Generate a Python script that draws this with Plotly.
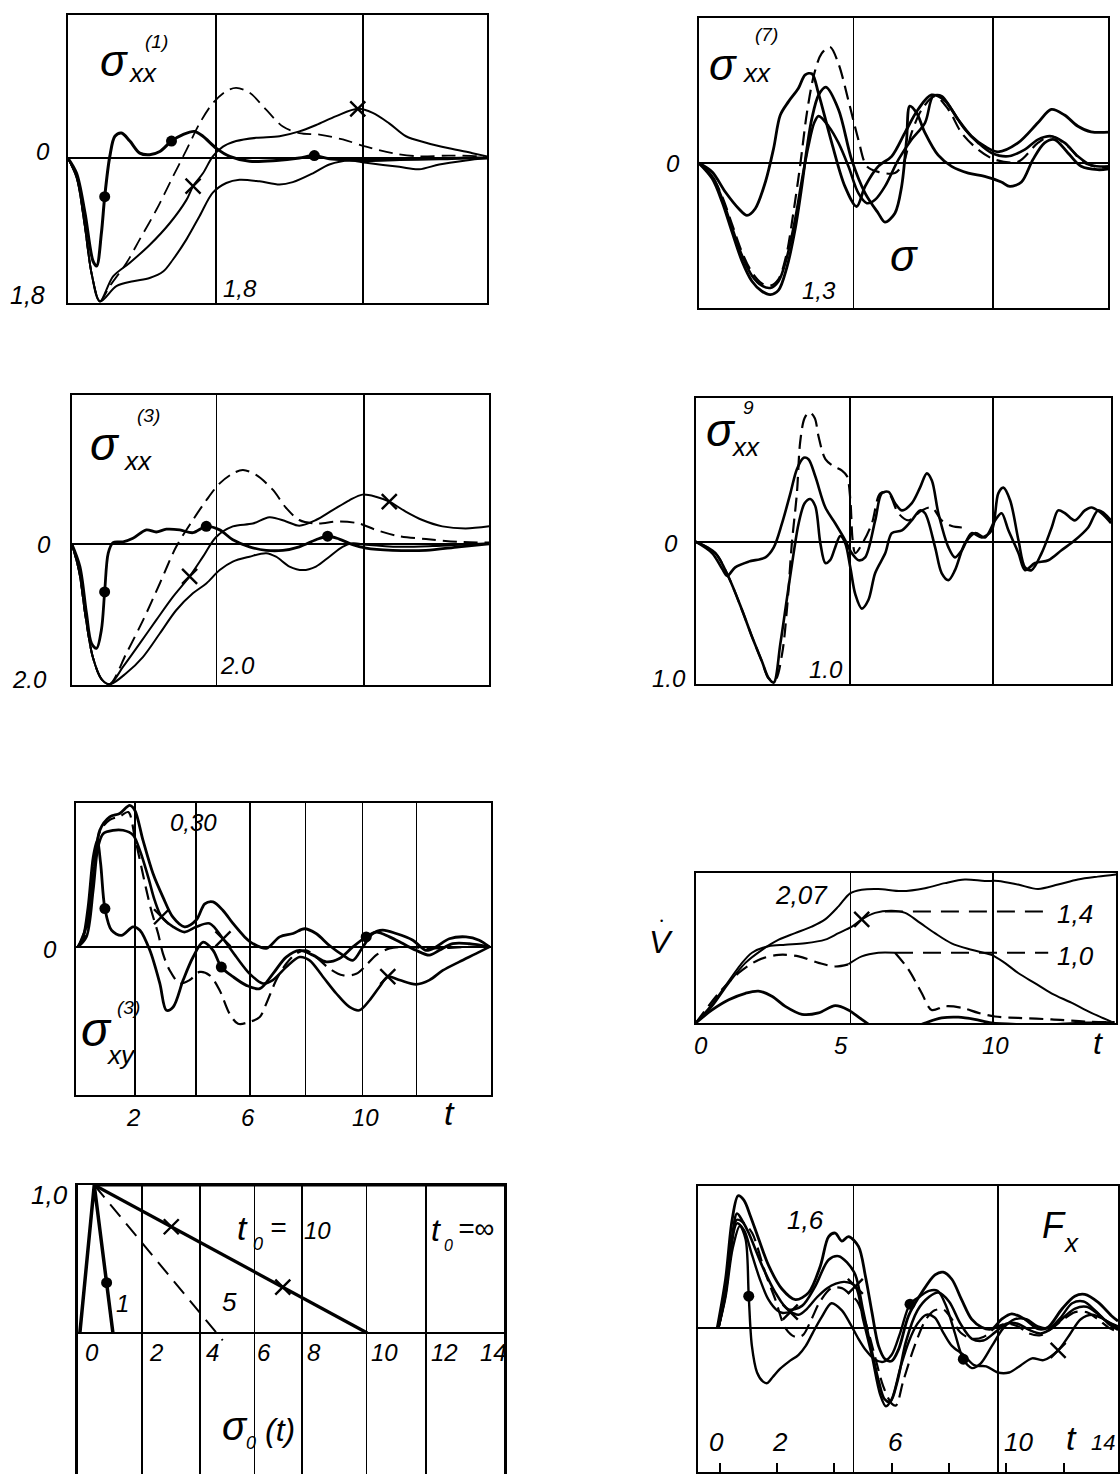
import plotly.graph_objects as go

W, H = 1120, 1474
FONT = "Liberation Sans, Arial, sans-serif"

# ================= DATA (t = time, v = value) =================
# ---- Panel 1: sigma_xx^(1) ----
p1_dots_t = [0, 0.29, 0.57, 0.84, 0.96, 1.12, 1.23, 1.4, 1.57, 1.79, 2.07, 2.4, 2.73, 3.07, 3.46, 3.84, 4.23, 4.51, 4.96, 5.4, 6.07, 6.96, 7.73, 8.23, 8.73, 9.96, 11.07, 12.4, 13.3, 14.0]
p1_dots_v = [0, -0.19, -0.68, -1.28, -1.34, -0.93, -0.48, 0.02, 0.27, 0.31, 0.21, 0.06, 0.04, 0.08, 0.21, 0.29, 0.33, 0.27, 0.12, 0.02, -0.04, -0.03, 0, 0.03, -0.01, -0.03, -0.02, -0.01, 0, 0]
p1_dash_t = [0, 0.3, 0.55, 0.8, 1.07, 1.4, 1.96, 2.4, 2.96, 3.51, 3.96, 4.4, 4.84, 5.29, 5.62, 6.07, 6.62, 7.18, 7.73, 8.4, 9.18, 9.96, 10.84, 11.73, 12.7, 13.7, 14.0]
p1_dash_v = [0, -0.25, -0.8, -1.45, -1.78, -1.59, -1.30, -1.01, -0.64, -0.23, 0.10, 0.43, 0.68, 0.83, 0.87, 0.81, 0.60, 0.39, 0.31, 0.29, 0.23, 0.14, 0.06, 0.02, 0.03, 0.02, 0]
p1_x_t = [0, 0.3, 0.55, 0.8, 1.07, 1.51, 2.07, 2.73, 3.4, 3.96, 4.18, 4.51, 4.84, 5.18, 5.62, 6.29, 7.07, 7.73, 8.29, 8.96, 9.68, 10.18, 10.73, 11.29, 11.96, 12.73, 13.51, 14.0]
p1_x_v = [0, -0.25, -0.8, -1.45, -1.78, -1.47, -1.30, -1.08, -0.81, -0.52, -0.35, -0.19, 0.02, 0.14, 0.21, 0.25, 0.27, 0.33, 0.41, 0.52, 0.61, 0.56, 0.43, 0.27, 0.19, 0.12, 0.06, 0.02]
p1_slow_t = [0, 0.3, 0.55, 0.8, 1.07, 1.62, 2.18, 2.73, 3.18, 3.51, 3.96, 4.4, 4.84, 5.29, 5.73, 6.4, 7.07, 7.51, 8.18, 8.73, 9.4, 9.96, 11.07, 11.73, 12.4, 13.29, 14.0]
p1_slow_v = [0, -0.25, -0.8, -1.45, -1.78, -1.59, -1.53, -1.49, -1.41, -1.26, -1.01, -0.72, -0.43, -0.31, -0.27, -0.29, -0.33, -0.30, -0.19, -0.08, -0.03, -0.06, -0.11, -0.14, -0.08, -0.03, 0]
p1_dotmk_t = [1.23, 3.46, 8.23]
p1_dotmk_v = [-0.48, 0.21, 0.03]
p1_xmk_t = [4.18, 9.68]
p1_xmk_v = [-0.35, 0.61]

# ---- Panel 2: sigma_xx^(3) ----
p2_dots_t = [0, 0.27, 0.49, 0.66, 0.83, 0.99, 1.1, 1.22, 1.38, 1.72, 2.05, 2.5, 2.83, 3.17, 3.62, 4.06, 4.51, 4.96, 5.4, 5.96, 6.52, 7.08, 7.63, 8.19, 8.58, 8.97, 9.42, 9.87, 10.76, 11.88, 12.99, 14.0]
p2_dots_v = [0, -0.32, -0.98, -1.41, -1.48, -1.22, -0.68, -0.13, 0.02, 0.03, 0.08, 0.20, 0.17, 0.21, 0.20, 0.16, 0.25, 0.20, 0.06, -0.04, -0.09, -0.09, -0.04, 0.06, 0.11, 0.07, -0.01, -0.06, -0.09, -0.09, -0.04, 0]
p2_x_t = [0, 0.25, 0.45, 0.7, 1.0, 1.27, 1.72, 2.28, 2.83, 3.39, 3.95, 4.4, 4.84, 5.4, 6.07, 6.63, 7.19, 7.63, 8.19, 8.75, 9.31, 9.75, 10.2, 10.65, 11.2, 11.76, 12.43, 13.21, 14.0]
p2_x_v = [0, -0.4, -1.0, -1.6, -1.92, -1.99, -1.74, -1.41, -1.08, -0.75, -0.46, -0.18, 0.10, 0.25, 0.29, 0.38, 0.32, 0.26, 0.34, 0.48, 0.62, 0.70, 0.67, 0.60, 0.46, 0.34, 0.25, 0.22, 0.25]
p2_dash_t = [0, 0.25, 0.45, 0.7, 1.0, 1.27, 1.83, 2.39, 2.95, 3.5, 4.06, 4.51, 4.96, 5.4, 5.74, 6.18, 6.74, 7.19, 7.63, 8.19, 8.97, 9.64, 10.2, 10.98, 11.88, 12.99, 14.0]
p2_dash_v = [0, -0.4, -1.0, -1.6, -1.92, -1.99, -1.55, -1.08, -0.56, -0.04, 0.34, 0.62, 0.86, 1.0, 1.05, 0.98, 0.77, 0.51, 0.34, 0.29, 0.32, 0.29, 0.20, 0.11, 0.07, 0.03, 0.02]
p2_slow_t = [0, 0.25, 0.45, 0.7, 1.0, 1.27, 1.83, 2.39, 2.95, 3.5, 4.06, 4.51, 4.96, 5.4, 5.96, 6.52, 6.85, 7.3, 7.75, 8.19, 8.64, 9.08, 9.42, 9.87, 10.98, 12.1, 14.0]
p2_slow_v = [0, -0.4, -1.0, -1.6, -1.92, -1.99, -1.83, -1.60, -1.27, -0.94, -0.70, -0.56, -0.37, -0.25, -0.18, -0.13, -0.18, -0.32, -0.37, -0.32, -0.18, -0.04, 0.01, -0.01, -0.04, -0.03, 0.01]
p2_dotmk_t = [1.1, 4.51, 8.58]
p2_dotmk_v = [-0.68, 0.25, 0.11]
p2_xmk_t = [3.95, 10.65]
p2_xmk_v = [-0.46, 0.60]

# ---- Panel 3: sigma_xy^(3) ----
p3_top_t = [0, 0.07, 0.36, 0.6, 0.77, 1.12, 1.47, 1.82, 2.0, 2.29, 2.64, 2.99, 3.34, 3.75, 4.16, 4.46, 4.75, 5.1, 5.45, 5.86, 6.15, 6.62, 7.09, 7.56, 7.96, 8.37, 8.84, 9.31, 9.66, 10.01, 10.36, 10.71, 11.18, 11.77, 12.23, 12.58, 13.05, 13.64, 14.1, 14.46]
p3_top_v = [0, 0.007, 0.056, 0.174, 0.243, 0.271, 0.278, 0.295, 0.285, 0.222, 0.153, 0.104, 0.062, 0.042, 0.056, 0.090, 0.094, 0.076, 0.049, 0.021, 0.007, -0.003, 0.021, 0.028, 0.038, 0.028, 0.003, -0.017, -0.028, 0, 0.028, 0.035, 0.028, 0.014, -0.007, 0, 0.017, 0.021, 0.014, 0]
p3_x_t = [0, 0.3, 0.54, 0.71, 0.89, 1.24, 1.59, 1.94, 2.18, 2.47, 2.7, 2.94, 3.35, 3.75, 4.16, 4.63, 5.1, 5.57, 6.04, 6.5, 6.85, 7.32, 7.79, 8.14, 8.61, 9.08, 9.54, 9.89, 10.25, 10.6, 10.89, 11.3, 11.88, 12.35, 12.82, 13.4, 13.99, 14.46]
p3_x_v = [0, 0.021, 0.118, 0.208, 0.236, 0.243, 0.243, 0.233, 0.201, 0.146, 0.097, 0.063, 0.042, 0.031, 0.042, 0.049, 0.017, -0.021, -0.056, -0.076, -0.069, -0.042, -0.021, -0.028, -0.062, -0.097, -0.125, -0.132, -0.111, -0.083, -0.062, -0.069, -0.078, -0.069, -0.049, -0.031, -0.014, 0]
p3_dots_t = [0, 0.19, 0.36, 0.54, 0.68, 0.8, 0.95, 1.18, 1.53, 1.94, 2.18, 2.53, 2.88, 3.11, 3.35, 3.7, 4.05, 4.4, 4.75, 5.04, 5.45, 5.92, 6.39, 6.85, 7.32, 7.79, 8.26, 8.73, 9.19, 9.66, 10.13, 10.48, 10.95, 11.42, 11.88, 12.35, 12.7, 13.17, 13.75, 14.46]
p3_dots_v = [0, 0.021, 0.083, 0.187, 0.222, 0.174, 0.08, 0.035, 0.024, 0.042, 0.035, -0.007, -0.076, -0.132, -0.125, -0.069, -0.021, 0.01, -0.007, -0.042, -0.062, -0.08, -0.087, -0.056, -0.021, -0.007, -0.017, -0.031, -0.024, 0, 0.021, 0.031, 0.021, 0.007, -0.007, -0.017, -0.007, 0.007, 0.007, 0]
p3_dash_t = [0, 0.3, 0.54, 0.77, 1.12, 1.47, 1.77, 2.0, 2.23, 2.41, 2.58, 2.82, 2.99, 3.23, 3.58, 3.93, 4.28, 4.63, 4.98, 5.33, 5.63, 6.04, 6.39, 6.62, 6.97, 7.32, 7.67, 8.02, 8.37, 8.84, 9.31, 9.78, 10.13, 10.48, 10.95, 11.53, 12.47, 13.64, 14.46]
p3_dash_v = [0, 0.03, 0.15, 0.24, 0.265, 0.272, 0.281, 0.229, 0.167, 0.118, 0.076, 0.028, -0.014, -0.049, -0.076, -0.069, -0.052, -0.059, -0.09, -0.139, -0.16, -0.156, -0.146, -0.118, -0.069, -0.035, -0.014, -0.007, -0.021, -0.045, -0.059, -0.056, -0.038, -0.017, -0.003, 0, -0.003, 0, 0]
p3_dotmk_t = [0.95, 5.04, 10.13]
p3_dotmk_v = [0.08, -0.042, 0.021]
p3_xmk_t = [2.94, 5.1, 10.89]
p3_xmk_v = [0.063, 0.017, -0.062]

# ---- Panel 4: sigma_0(t) load pulses ----
p4_t1 = [0, 0.5, 1.15]
p4_v1 = [0, 1, 0]
p4_t5 = [0.5, 4.97]
p4_v5 = [1, -0.05]
p4_t10 = [0.5, 10.0]
p4_v10 = [1, 0]
p4_tinf = [0.5, 14.76]
p4_vinf = [1, 1]
p4_dotmk_t = [0.93]
p4_dotmk_v = [0.34]
p4_xmk_t = [3.18, 7.06]
p4_xmk_v = [0.718, 0.31]

# ---- Panel 5: sigma_xx^(7) ----
p5_s1_t = [0, 0.46, 0.91, 1.37, 1.65, 1.93, 2.28, 2.56, 2.79, 3.07, 3.41, 3.64, 3.87, 4.1, 4.55, 5.0, 5.4, 5.69, 6.14, 6.6, 7.05, 7.5, 7.96, 8.42, 8.87, 9.33, 9.78, 10.24, 10.92, 11.6, 12.06, 12.51, 12.97, 13.42, 14.2]
p5_s1_v = [0, -0.08, -0.26, -0.41, -0.47, -0.41, -0.17, 0.13, 0.43, 0.55, 0.67, 0.79, 0.80, 0.62, 0.18, -0.21, -0.39, -0.21, -0.03, 0.06, 0.27, 0.48, 0.61, 0.56, 0.39, 0.24, 0.15, 0.10, 0.18, 0.36, 0.48, 0.43, 0.33, 0.28, 0.28]
p5_a_t = [0, 0.46, 0.8, 1.14, 1.48, 1.82, 2.16, 2.45, 2.73, 3.01, 3.3, 3.53, 3.7, 3.87, 4.1, 4.35, 4.78, 5.23, 5.69, 6.14, 6.37, 6.71, 6.94, 7.11, 7.22, 7.45, 7.74, 8.19, 8.65, 9.22, 9.78, 10.35, 10.64, 11.04, 11.43, 11.83, 12.17, 12.63, 13.08, 13.65, 14.1]
p5_a_v = [0, -0.14, -0.35, -0.62, -0.88, -1.06, -1.15, -1.18, -1.14, -0.94, -0.59, -0.20, 0.13, 0.40, 0.61, 0.68, 0.48, 0.03, -0.27, -0.45, -0.53, -0.45, -0.21, 0.21, 0.51, 0.45, 0.27, 0.07, -0.03, -0.09, -0.12, -0.17, -0.21, -0.17, 0.03, 0.18, 0.21, 0.09, -0.03, -0.06, -0.05]
p5_b_t = [0, 0.46, 0.8, 1.14, 1.48, 1.82, 2.16, 2.45, 2.73, 3.01, 3.3, 3.53, 3.75, 3.95, 4.1, 4.44, 4.78, 5.12, 5.46, 5.75, 6.03, 6.37, 6.83, 7.28, 7.74, 8.02, 8.31, 8.65, 9.11, 9.56, 10.02, 10.58, 11.15, 11.6, 12.06, 12.52, 12.97, 13.43, 14.1]
p5_b_v = [0, -0.12, -0.32, -0.58, -0.83, -1.01, -1.10, -1.12, -1.06, -0.85, -0.50, -0.15, 0.15, 0.36, 0.42, 0.33, 0.18, -0.03, -0.27, -0.36, -0.33, -0.21, 0.03, 0.21, 0.36, 0.60, 0.60, 0.48, 0.30, 0.18, 0.09, 0.06, 0.12, 0.21, 0.24, 0.18, 0.06, -0.02, -0.03]
p5_dash_t = [0, 0.46, 0.8, 1.14, 1.48, 1.82, 2.16, 2.45, 2.73, 3.0, 3.24, 3.47, 3.7, 3.95, 4.2, 4.49, 4.78, 5.12, 5.46, 5.75, 6.14, 6.71, 7.0, 7.28, 7.63, 8.08, 8.54, 8.99, 9.56, 10.13, 10.92, 11.6, 12.06, 12.63, 13.2, 14.1]
p5_dash_v = [0, -0.12, -0.30, -0.55, -0.80, -0.98, -1.08, -1.10, -1.04, -0.82, -0.44, -0.02, 0.45, 0.80, 0.98, 1.04, 0.89, 0.56, 0.21, -0.03, -0.08, -0.09, 0, 0.27, 0.48, 0.60, 0.48, 0.27, 0.12, 0.03, 0.01, 0.18, 0.24, 0.15, 0, -0.05]

# ---- Panel 6: sigma_xx^9 ----
p6_sh_t = [0, 0.55, 0.89, 1.06, 1.33, 1.78, 2.35, 2.63, 2.91, 3.19, 3.41, 3.64, 3.8, 4.03, 4.37, 4.7, 5.04, 5.26, 5.49, 5.71, 6.05, 6.27, 6.5, 6.72, 6.95, 7.28, 7.56, 7.79, 7.96, 8.18, 8.52, 8.74, 8.97, 9.3, 9.64, 9.98, 10.2, 10.37, 10.6, 10.88, 11.1, 11.32, 11.66, 12.0, 12.22, 12.45, 12.78, 13.12, 13.34, 13.68, 14.0]
p6_sh_v = [0, -0.08, -0.19, -0.24, -0.18, -0.14, -0.11, -0.04, 0.13, 0.34, 0.51, 0.59, 0.58, 0.46, 0.24, 0.13, 0.01, -0.08, -0.13, -0.11, 0.15, 0.34, 0.35, 0.27, 0.22, 0.27, 0.38, 0.48, 0.43, 0.20, -0.04, -0.11, -0.06, 0.06, 0.03, 0.08, 0.34, 0.38, 0.29, 0.01, -0.18, -0.20, -0.08, 0.10, 0.22, 0.20, 0.15, 0.22, 0.24, 0.20, 0.13]
p6_deep_t = [0, 0.66, 1.11, 1.56, 1.9, 2.23, 2.46, 2.63, 2.85, 3.08, 3.3, 3.47, 3.67, 3.86, 4.03, 4.2, 4.37, 4.53, 4.7, 4.87, 5.04, 5.21, 5.38, 5.6, 5.82, 6.05, 6.39, 6.61, 6.95, 7.28, 7.56, 7.73, 8.07, 8.29, 8.52, 8.74, 9.08, 9.42, 9.75, 10.09, 10.31, 10.54, 10.88, 11.1, 11.44, 11.89, 12.33, 12.78, 13.23, 13.57, 14.0]
p6_deep_v = [0, -0.08, -0.25, -0.48, -0.67, -0.84, -0.96, -0.99, -0.72, -0.39, -0.08, 0.13, 0.27, 0.30, 0.25, -0.01, -0.15, -0.13, -0.04, 0.04, -0.01, -0.18, -0.37, -0.47, -0.41, -0.22, -0.08, 0.06, 0.08, 0.15, 0.22, 0.20, -0.04, -0.22, -0.27, -0.20, -0.01, 0.06, 0.03, 0.15, 0.20, 0.08, -0.08, -0.20, -0.15, -0.13, -0.06, 0.01, 0.10, 0.22, 0.15]
p6_dash_t = [0, 0.66, 1.11, 1.56, 1.9, 2.23, 2.46, 2.68, 2.91, 3.08, 3.24, 3.41, 3.52, 3.67, 3.83, 4.01, 4.14, 4.37, 4.65, 4.93, 5.1, 5.21, 5.29, 5.38, 5.65, 5.94, 6.22, 6.5, 6.83, 7.17, 7.62, 7.96, 8.29, 8.63, 8.97]
p6_dash_v = [0, -0.08, -0.25, -0.48, -0.67, -0.84, -0.96, -0.97, -0.79, -0.46, -0.01, 0.34, 0.70, 0.87, 0.91, 0.87, 0.74, 0.58, 0.53, 0.50, 0.46, 0.30, 0.01, -0.08, 0.0, 0.13, 0.34, 0.34, 0.20, 0.15, 0.22, 0.24, 0.15, 0.11, 0.10]

# ---- Panel 7: V-dot ----
p7_top_t = [0, 0.55, 1.11, 1.67, 2.23, 2.79, 3.34, 3.9, 4.35, 4.8, 5.19, 5.58, 6.14, 6.92, 7.71, 8.38, 9.05, 9.72, 10.17, 10.84, 11.51, 12.18, 12.85, 13.52, 14.14]
p7_top_v = [0, 0.23, 0.55, 0.83, 1.01, 1.15, 1.24, 1.33, 1.43, 1.61, 1.79, 1.84, 1.85, 1.82, 1.86, 1.93, 1.98, 1.96, 1.96, 1.91, 1.85, 1.91, 1.98, 2.02, 2.05]
p7_x_t = [0, 0.55, 1.11, 1.5, 1.89, 2.45, 3.01, 3.68, 4.35, 4.8, 5.25, 5.58, 6.03, 6.59, 7.04, 7.48, 8.04, 8.6, 9.27, 9.94, 10.39, 10.84, 11.4, 11.96, 12.63, 13.3, 13.97]
p7_x_v = [0, 0.26, 0.58, 0.80, 0.97, 1.06, 1.08, 1.10, 1.15, 1.24, 1.33, 1.43, 1.52, 1.55, 1.52, 1.40, 1.24, 1.10, 1.01, 0.94, 0.83, 0.69, 0.55, 0.41, 0.28, 0.14, 0.02]
p7_mid1_t = [0, 0.77, 1.44, 2.11, 2.79, 3.46, 4.13, 4.69, 5.13]
p7_mid1_v = [0, 0.41, 0.69, 0.87, 0.94, 0.92, 0.83, 0.78, 0.81]
p7_mid2_t = [5.13, 5.58, 6.14, 6.7]
p7_mid2_v = [0.81, 0.92, 0.97, 0.97]
p7_mid3_t = [6.7, 7.15, 7.6, 7.93, 8.38, 8.94, 9.5, 10.06, 10.84, 11.96, 13.08, 14.08]
p7_mid3_v = [0.97, 0.74, 0.41, 0.18, 0.23, 0.21, 0.14, 0.09, 0.07, 0.05, 0.02, 0.01]
p7_lvl14_t = [6.36, 11.85]
p7_lvl14_v = [1.54, 1.54]
p7_lvl10_t = [6.7, 11.85]
p7_lvl10_v = [0.97, 0.97]
p7_bot_t = [0, 0.55, 1.11, 1.67, 2.11, 2.56, 3.01, 3.57, 4.13, 4.69, 5.13, 5.58, 6.03, 6.59, 7.15, 7.71, 8.27, 8.83, 9.38, 9.94, 10.84, 11.96, 13.08, 14.08]
p7_bot_v = [0, 0.18, 0.32, 0.41, 0.44, 0.37, 0.23, 0.12, 0.14, 0.24, 0.18, 0.05, -0.07, -0.12, -0.09, 0, 0.07, 0.08, 0.05, 0, -0.02, -0.02, 0, 0.01]
p7_xmk_t = [5.58]
p7_xmk_v = [1.43]

# ---- Panel 8: F_x ----
p8_c1_t = [-0.09, 0.2, 0.43, 0.64, 0.84, 1.07, 1.36, 1.71, 2.17, 2.64, 3.1, 3.51, 3.8, 4.03, 4.26, 4.49, 4.84, 5.08, 5.31, 5.54, 5.77, 6.0, 6.24, 6.59, 7.05, 7.51, 7.8, 8.1, 8.44, 8.79, 9.14, 9.49, 9.84, 10.19, 10.65, 11.12, 11.46, 11.93, 12.39, 12.74, 13.21, 13.67, 13.9]
p8_c1_v = [0, 0.55, 1.22, 1.49, 1.44, 1.26, 1.0, 0.70, 0.44, 0.32, 0.40, 0.70, 1.03, 1.07, 0.98, 1.03, 0.92, 0.59, 0.18, -0.2, -0.35, -0.37, -0.24, 0.14, 0.4, 0.6, 0.63, 0.55, 0.32, 0.10, 0.01, -0.01, 0.10, 0.16, 0.10, -0.01, 0.01, 0.21, 0.36, 0.38, 0.29, 0.14, 0.08]
p8_c2_t = [-0.05, 0.2, 0.4, 0.6, 0.8, 1.01, 1.48, 1.94, 2.4, 2.87, 3.33, 3.8, 4.15, 4.44, 4.73, 5.0, 5.3, 5.55, 5.75, 5.95, 6.2, 6.5, 6.9, 7.3, 7.63, 8.0, 8.4, 8.8, 9.2, 9.6, 10.0, 10.4, 10.8, 11.2, 11.6, 12.0, 12.4, 12.8, 13.2, 13.6, 13.9]
p8_c2_v = [0, 0.4, 0.95, 1.29, 1.2, 1.07, 0.70, 0.40, 0.21, 0.25, 0.47, 0.77, 0.81, 0.74, 0.6, 0.2, -0.25, -0.6, -0.8, -0.83, -0.6, -0.15, 0.2, 0.35, 0.40, 0.3, 0.05, -0.12, -0.14, -0.05, 0.05, 0.05, -0.02, -0.06, 0.0, 0.12, 0.22, 0.24, 0.16, 0.04, -0.02]
p8_dash_t = [-0.05, 0.2, 0.4, 0.6, 0.85, 1.13, 1.59, 1.94, 2.29, 2.64, 2.9, 3.2, 3.5, 3.9, 4.26, 4.55, 4.8, 5.1, 5.4, 5.7, 6.0, 6.15, 6.4, 6.8, 7.2, 7.5, 7.8, 8.1, 8.4, 8.8, 9.2, 9.6, 10.0, 10.4, 10.8, 11.2, 11.6, 12.0, 12.4, 12.8, 13.2, 13.6, 13.9]
p8_dash_v = [0, 0.4, 0.95, 1.22, 1.18, 1.07, 0.62, 0.32, 0.0, -0.1, -0.08, 0.1, 0.3, 0.45, 0.45, 0.38, 0.3, 0.05, -0.3, -0.65, -0.85, -0.87, -0.6, -0.2, 0.1, 0.2, 0.21, 0.1, -0.05, -0.12, -0.1, 0.0, 0.05, 0.02, -0.06, -0.08, 0.0, 0.1, 0.18, 0.18, 0.1, 0.0, -0.04]
p8_c4_t = [-0.05, 0.2, 0.4, 0.6, 0.85, 1.1, 1.4, 1.7, 2.0, 2.2, 2.46, 2.75, 3.05, 3.4, 3.75, 4.05, 4.35, 4.73, 5.0, 5.3, 5.6, 5.8, 6.0, 6.3, 6.6, 6.9, 7.2, 7.5, 7.8, 8.1, 8.5, 8.9, 9.3, 9.7, 10.1, 10.5, 10.9, 11.3, 11.81, 12.2, 12.6, 13.0, 13.4, 13.9]
p8_c4_v = [0, 0.38, 0.92, 1.18, 1.1, 0.85, 0.55, 0.32, 0.2, 0.17, 0.18, 0.15, 0.22, 0.35, 0.45, 0.5, 0.52, 0.47, 0.1, -0.3, -0.75, -0.88, -0.8, -0.45, -0.15, 0.05, 0.15, 0.12, -0.05, -0.2, -0.3, -0.42, -0.43, -0.5, -0.5, -0.42, -0.34, -0.36, -0.25, -0.08, 0.1, 0.15, 0.1, 0.0]
p8_c5_t = [-0.05, 0.2, 0.45, 0.7, 0.9, 1.01, 1.12, 1.3, 1.5, 1.65, 1.85, 2.1, 2.4, 2.75, 3.0, 3.25, 3.55, 3.9, 4.26, 4.55, 4.84, 5.1, 5.4, 5.7, 6.0, 6.3, 6.64, 7.0, 7.3, 7.6, 7.9, 8.2, 8.5, 8.8, 9.1, 9.5, 9.9, 10.3, 10.7, 11.1, 11.5, 11.9, 12.3, 12.7, 13.1, 13.5, 13.9]
p8_c5_v = [0, 0.35, 0.9, 1.15, 1.0, 0.36, -0.2, -0.5, -0.6, -0.62, -0.55, -0.46, -0.38, -0.3, -0.2, -0.05, 0.12, 0.28, 0.2, 0.05, -0.12, -0.25, -0.35, -0.38, -0.3, -0.05, 0.27, 0.36, 0.42, 0.42, 0.25, -0.05, -0.35, -0.45, -0.4, -0.2, 0.0, 0.1, 0.1, 0.02, 0.0, 0.12, 0.28, 0.3, 0.2, 0.08, 0.02]
p8_dotmk_t = [1.01, 6.64, 8.5]
p8_dotmk_v = [0.36, 0.27, -0.35]
p8_xmk_t = [2.46, 4.73, 11.81]
p8_xmk_v = [0.18, 0.47, -0.25]
p8_ticks = [0, 2, 4, 6, 8, 10, 12]

# ================= LAYOUT OF PANELS =================
# box = (left px, right px, top px, bottom px)
PANELS = {
    1: dict(box=(68, 488, 15, 303), xr=[0, 14], yr=[-1.8, 1.775], grid=[4.95, 9.85], zero=True),
    2: dict(box=(72, 490, 395, 685), xr=[0, 14], yr=[-2.0, 2.113], grid=[4.85, 9.8], zero=True),
    3: dict(box=(76, 492, 803, 1095), xr=[-0.07, 14.52], yr=[-0.3085, 0.30], grid=[2, 4.14, 6.04, 8, 10, 11.9], zero=True),
    4: dict(box=(78, 505, 1185, 1474), xr=[-0.07, 14.76], yr=[-0.953, 1.0], grid=[2.15, 4.17, 6.08, 7.74, 9.97, 12.05], zero=True),
    5: dict(box=(700, 1110, 18, 308), xr=[0, 14], yr=[-1.3, 1.3], grid=[5.29, 10.07], zero=True),
    6: dict(box=(697, 1113, 398, 684), xr=[0, 14], yr=[-1.0, 1.01], grid=[5.2, 10.03], zero=True),
    7: dict(box=(697, 1118, 873, 1023), xr=[0, 14.13], yr=[0, 2.07], grid=[5.2, 10.0], zero=False),
    8: dict(box=(699, 1120, 1186, 1472), xr=[-0.77, 13.9], yr=[-1.62, 1.6], grid=[4.67, 9.72], zero=True),
}

DASH = "14px,7px"
# (panel, t, v, width, dash, shape)
SERIES = [
    (1, p1_slow_t, p1_slow_v, 2.0, None, "spline"),
    (1, p1_x_t, p1_x_v, 2.0, None, "spline"),
    (1, p1_dash_t, p1_dash_v, 1.8, DASH, "spline"),
    (1, p1_dots_t, p1_dots_v, 3.0, None, "spline"),
    (2, p2_slow_t, p2_slow_v, 2.0, None, "spline"),
    (2, p2_x_t, p2_x_v, 2.0, None, "spline"),
    (2, p2_dash_t, p2_dash_v, 2.0, DASH, "spline"),
    (2, p2_dots_t, p2_dots_v, 2.8, None, "spline"),
    (3, p3_top_t, p3_top_v, 2.8, None, "spline"),
    (3, p3_x_t, p3_x_v, 2.6, None, "spline"),
    (3, p3_dots_t, p3_dots_v, 2.8, None, "spline"),
    (3, p3_dash_t, p3_dash_v, 2.2, DASH, "spline"),
    (4, p4_t1, p4_v1, 3.5, None, "linear"),
    (4, p4_t5, p4_v5, 2.0, "16px,9px", "linear"),
    (4, p4_t10, p4_v10, 3.2, None, "linear"),
    (4, p4_tinf, p4_vinf, 3.0, None, "linear"),
    (5, p5_s1_t, p5_s1_v, 2.8, None, "spline"),
    (5, p5_a_t, p5_a_v, 2.8, None, "spline"),
    (5, p5_b_t, p5_b_v, 2.6, None, "spline"),
    (5, p5_dash_t, p5_dash_v, 2.2, DASH, "spline"),
    (6, p6_sh_t, p6_sh_v, 2.6, None, "spline"),
    (6, p6_deep_t, p6_deep_v, 2.6, None, "spline"),
    (6, p6_dash_t, p6_dash_v, 2.2, DASH, "spline"),
    (7, p7_top_t, p7_top_v, 2.0, None, "spline"),
    (7, p7_x_t, p7_x_v, 2.0, None, "spline"),
    (7, p7_mid1_t, p7_mid1_v, 2.2, DASH, "spline"),
    (7, p7_mid2_t, p7_mid2_v, 2.0, None, "spline"),
    (7, p7_mid3_t, p7_mid3_v, 2.2, DASH, "spline"),
    (7, p7_lvl14_t, p7_lvl14_v, 2.0, "18px,10px", "linear"),
    (7, p7_lvl10_t, p7_lvl10_v, 2.0, "18px,10px", "linear"),
    (7, p7_bot_t, p7_bot_v, 2.8, None, "spline"),
    (8, p8_c1_t, p8_c1_v, 2.8, None, "spline"),
    (8, p8_c2_t, p8_c2_v, 2.6, None, "spline"),
    (8, p8_dash_t, p8_dash_v, 2.2, DASH, "spline"),
    (8, p8_c4_t, p8_c4_v, 2.4, None, "spline"),
    (8, p8_c5_t, p8_c5_v, 2.4, None, "spline"),
]

MARKERS = [
    (1, p1_dotmk_t, p1_dotmk_v, "circle"), (1, p1_xmk_t, p1_xmk_v, "x"),
    (2, p2_dotmk_t, p2_dotmk_v, "circle"), (2, p2_xmk_t, p2_xmk_v, "x"),
    (3, p3_dotmk_t, p3_dotmk_v, "circle"), (3, p3_xmk_t, p3_xmk_v, "x"),
    (4, p4_dotmk_t, p4_dotmk_v, "circle"), (4, p4_xmk_t, p4_xmk_v, "x"),
    (7, p7_xmk_t, p7_xmk_v, "x"),
    (8, p8_dotmk_t, p8_dotmk_v, "circle"), (8, p8_xmk_t, p8_xmk_v, "x"),
]


def axn(i):
    return ("x" if i == 1 else f"x{i}", "y" if i == 1 else f"y{i}")


fig = go.Figure()

for pn, t, v, w, dash, shape in SERIES:
    xa, ya = axn(pn)
    line = dict(color="black", width=w, shape=shape)
    if shape == "spline":
        line["smoothing"] = 0.9
    if dash:
        line["dash"] = dash
    fig.add_trace(go.Scatter(x=t, y=v, mode="lines", line=line, xaxis=xa, yaxis=ya,
                             hoverinfo="skip", showlegend=False))

for pn, t, v, kind in MARKERS:
    xa, ya = axn(pn)
    if kind == "circle":
        mk = dict(symbol="circle", size=11, color="black")
    else:
        mk = dict(symbol="x-thin", size=15, color="black", line=dict(color="black", width=2.4))
    fig.add_trace(go.Scatter(x=t, y=v, mode="markers", marker=mk, xaxis=xa, yaxis=ya,
                             hoverinfo="skip", showlegend=False, cliponaxis=False))

layout = dict(width=W, height=H, margin=dict(l=0, r=0, t=0, b=0),
              paper_bgcolor="white", plot_bgcolor="white", showlegend=False,
              hovermode=False)

for i, p in PANELS.items():
    x0, x1, y0, y1 = p["box"]
    xk = "xaxis" if i == 1 else f"xaxis{i}"
    yk = "yaxis" if i == 1 else f"yaxis{i}"
    xa, ya = axn(i)
    xdict = dict(domain=[x0 / W, x1 / W], range=p["xr"], anchor=ya,
                 tickmode="array", tickvals=p["grid"], showticklabels=False, ticks="",
                 showgrid=True, gridcolor="black", gridwidth=1.7, zeroline=False,
                 showline=True, mirror=True, linecolor="black", linewidth=2, fixedrange=True)
    ydict = dict(domain=[1 - y1 / H, 1 - y0 / H], range=p["yr"], anchor=xa,
                 showgrid=False, showticklabels=False, ticks="",
                 zeroline=p["zero"], zerolinecolor="black", zerolinewidth=1.7,
                 showline=True, mirror=True, linecolor="black", linewidth=2, fixedrange=True)
    if i == 8:
        xdict["minor"] = dict(tickmode="array", tickvals=p8_ticks, ticks="inside", ticklen=9,
                              tickwidth=2, tickcolor="black", showgrid=False)
    if i == 4:
        ydict["linewidth"] = 2.6
    layout[xk] = xdict
    layout[yk] = ydict


def lab(text, x, y, size):
    return dict(text=f"<i>{text}</i>", x=x / W, y=1 - y / H, xref="paper", yref="paper",
                xanchor="center", yanchor="middle", showarrow=False,
                font=dict(family=FONT, size=size, color="black"))


LABELS = [
    # panel 1
    ("σ", 114, 60, 44), ("(1)", 157, 41, 19), ("xx", 143, 73, 26),
    ("0", 43, 152, 24), ("1,8", 28, 295, 25), ("1,8", 240, 288, 24),
    # panel 2
    ("σ", 105, 444, 46), ("(3)", 149, 415, 19), ("xx", 138, 461, 26),
    ("0", 44, 544, 24), ("2.0", 30, 679, 24), ("2.0", 238, 665, 24),
    # panel 3
    ("0,30", 194, 823, 24), ("0", 50, 950, 24),
    ("σ", 97, 1029, 48), ("(3)", 129, 1007, 19), ("xy", 121, 1055, 26),
    ("2", 133, 1117, 24), ("6", 248, 1117, 24), ("10", 366, 1117, 24), ("t", 450, 1113, 34),
    # panel 4
    ("1,0", 50, 1195, 26),
    ("t", 243, 1228, 34), ("0", 258, 1244, 18), ("=", 278, 1227, 28), ("10", 318, 1230, 24),
    ("t", 437, 1230, 32), ("0", 449, 1245, 16), ("=∞", 477, 1228, 28),
    ("1", 123, 1303, 24), ("5", 230, 1302, 26),
    ("0", 92, 1352, 24), ("2", 156, 1352, 24), ("4", 213, 1352, 24), ("6", 264, 1352, 24),
    ("8", 315, 1352, 24), ("10", 385, 1352, 24), ("12", 445, 1352, 24), ("14", 494, 1352, 24),
    ("σ", 235, 1426, 40), ("0", 251, 1443, 18), ("(t)", 281, 1430, 32),
    # panel 5
    ("σ", 724, 64, 44), ("(7)", 768, 34, 19), ("xx", 758, 73, 26),
    ("0", 674, 163, 24), ("1,3", 820, 291, 24), ("σ", 906, 255, 44),
    # panel 6
    ("σ", 722, 430, 46), ("9", 750, 407, 19), ("xx", 747, 447, 26),
    ("0", 672, 543, 24), ("1.0", 670, 678, 24), ("1.0", 827, 669, 24),
    # panel 7
    ("V", 662, 942, 32), ("•", 663, 921, 9),
    ("2,07", 803, 895, 26), ("1,4", 1077, 914, 26), ("1,0", 1077, 956, 26),
    ("0", 702, 1045, 24), ("5", 843, 1045, 24), ("10", 997, 1045, 24), ("t", 1100, 1043, 32),
    # panel 8
    ("1,6", 807, 1220, 26), ("F", 1056, 1225, 36), ("x", 1073, 1243, 26),
    ("0", 718, 1442, 26), ("2", 781, 1442, 26), ("6", 897, 1442, 26), ("10", 1020, 1442, 26),
    ("t", 1073, 1438, 34), ("14", 1105, 1442, 22),
]

layout["annotations"] = [lab(*l) for l in LABELS]
fig.update_layout(**layout)

fig.write_html("out.html", config={"displayModeBar": False, "staticPlot": True},
               post_script="document.body.style.margin='0';document.body.style.padding='0';")
